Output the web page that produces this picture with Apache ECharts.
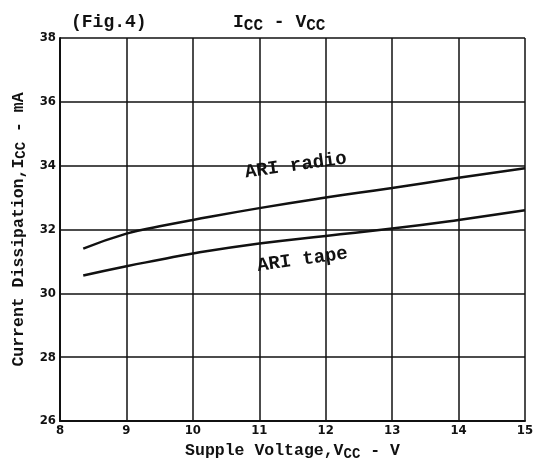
<!DOCTYPE html>
<html>
<head>
<meta charset="utf-8">
<script src="https://cdn.jsdelivr.net/npm/echarts@6/dist/echarts.min.js"></script>
<style>
  html, body { margin: 0; padding: 0; background: #fff; }
  #main { width: 536px; height: 466px; }
</style>
</head>
<body>
<div id="main"></div>
<script>
const voltage = [8.35, 9, 9.5, 10, 11, 12, 13, 14, 15];
const radio = [31.4, 31.87, 32.1, 32.3, 32.67, 33.0, 33.3, 33.62, 33.92];
const tape = [30.56, 30.85, 31.05, 31.25, 31.56, 31.8, 32.03, 32.3, 32.6];
const labelRadio = ['ARI radio', 11.55, 34.0, 8];
const labelTape = ['ARI tape', 11.65, 31.05, 8];

const chart = echarts.init(document.getElementById('main'));
const mono = 'Liberation Mono';
const black = '#111';

const option = {
  animation: false,
  backgroundColor: '#fff',
  title: [
    {
      text: '(Fig.4)',
      left: 66, top: 8,
      textStyle: { fontFamily: mono, fontSize: 18, fontWeight: 'bold', color: black }
    },
    {
      text: '{a|I}{s|CC}{a| - V}{s|CC}',
      left: 228, top: 5,
      textStyle: {
        rich: {
          a: { fontFamily: mono, fontSize: 18, color: black },
          s: { fontFamily: mono, fontSize: 16, color: black, padding: [8, 0, 0, 0] }
        }
      }
    }
  ],
  grid: { left: 60, right: 11, top: 38, bottom: 45, outerBoundsMode: 'none' },
  xAxis: {
    type: 'value', min: 8, max: 15, interval: 1,
    name: '{a|Supple Voltage,V}{s|CC}{a| - V}',
    nameLocation: 'middle', nameGap: 20,
    nameTextStyle: {
      rich: {
        a: { fontFamily: mono, fontSize: 16.5, fontWeight: 'bold', color: black },
        s: { fontFamily: mono, fontSize: 14, fontWeight: 'bold', color: black, padding: [6, 0, 0, 0] }
      }
    },
    axisLine: { lineStyle: { color: black, width: 2 } },
    axisTick: { show: false },
    axisLabel: { color: black, fontFamily: 'DejaVu Sans Condensed', fontWeight: 'bold', fontSize: 13, margin: 3 },
    splitLine: { lineStyle: { color: black, width: 1.5 } }
  },
  yAxis: {
    type: 'value', min: 26, max: 38, interval: 2,
    name: '{a|Current Dissipation,I}{s|CC}{a| - mA}',
    nameLocation: 'middle', nameGap: 30,
    nameTextStyle: {
      rich: {
        a: { fontFamily: mono, fontSize: 16.5, fontWeight: 'bold', color: black },
        s: { fontFamily: mono, fontSize: 14, fontWeight: 'bold', color: black, padding: [6, 0, 0, 0] }
      }
    },
    axisLine: { show: true, lineStyle: { color: black, width: 2 } },
    axisTick: { show: false },
    axisLabel: { color: black, fontFamily: 'DejaVu Sans Condensed', fontWeight: 'bold', fontSize: 13, margin: 4 },
    splitLine: { lineStyle: { color: black, width: 1.5 } }
  },
  series: [
    {
      name: 'ARI radio', type: 'line', smooth: true, symbol: 'none',
      data: voltage.map((v, i) => [v, radio[i]]),
      lineStyle: { color: black, width: 2.5 }
    },
    {
      name: 'ARI tape', type: 'line', smooth: true, symbol: 'none',
      data: voltage.map((v, i) => [v, tape[i]]),
      lineStyle: { color: black, width: 2.5 }
    }
  ]
};
chart.setOption(option);

// curve labels, placed in data coordinates
function curveLabel(l) {
  const p = chart.convertToPixel({ gridIndex: 0 }, [l[1], l[2]]);
  return {
    type: 'text', x: p[0], y: p[1], rotation: l[3] * Math.PI / 180,
    style: {
      text: l[0], fill: black, font: 'bold 19px "Liberation Mono"',
      align: 'center', verticalAlign: 'middle'
    }
  };
}
chart.setOption({ graphic: [curveLabel(labelRadio), curveLabel(labelTape)] });
</script>
</body>
</html>
